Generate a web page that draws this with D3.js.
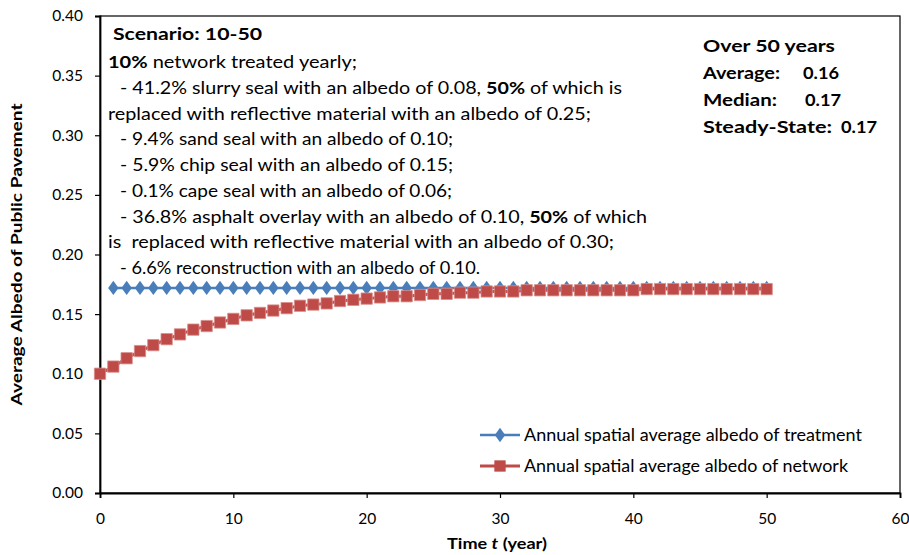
<!DOCTYPE html>
<html>
<head>
<meta charset="utf-8">
<script src="https://cdn.jsdelivr.net/npm/d3@7"></script>
<style>
  html, body { margin: 0; padding: 0; background: #fff; }
  svg { display: block; font-family: Lato, "Open Sans", sans-serif; }
</style>
</head>
<body>
<svg id="chart" width="909" height="555"></svg>
<script>
// Years for each series
const networkYears = d3.range(0, 51);
const treatmentYears = d3.range(1, 51);

// Annual spatial average albedo of the treatment applied (constant)
const treatmentAlbedo = Array(50).fill(0.172);

// Annual spatial average albedo of the whole network
const networkAlbedo = [
  0.100, 0.106, 0.113, 0.119, 0.124, 0.129, 0.133, 0.137, 0.140, 0.143,
  0.146, 0.149, 0.151, 0.153, 0.155, 0.157, 0.158, 0.159, 0.161, 0.162,
  0.163, 0.164, 0.165, 0.165, 0.166, 0.167, 0.167, 0.168, 0.168, 0.169,
  0.169, 0.169, 0.170, 0.170, 0.170, 0.170, 0.170, 0.170, 0.170, 0.170,
  0.170, 0.171, 0.171, 0.171, 0.171, 0.171, 0.171, 0.171, 0.171, 0.171,
  0.171
];

const xTicks = [0, 10, 20, 30, 40, 50, 60];
const yTicks = [0, 0.05, 0.10, 0.15, 0.20, 0.25, 0.30, 0.35, 0.40];

const seriesNames = [
  "Annual spatial average albedo of treatment",
  "Annual spatial average albedo of network"
];

// Scenario description lines: [text, bold?] segments
const scenarioTitle = "Scenario: 10-50";
const scenarioLines = [
  [["10%", true], [" network treated yearly;", false]],
  [["- 41.2% slurry seal with an albedo of 0.08, ", false], ["50%", true], [" of which is", false]],
  [["replaced with reflective material with an albedo of 0.25;", false]],
  [["- 9.4% sand seal with an albedo of 0.10;", false]],
  [["- 5.9% chip seal with an albedo of 0.15;", false]],
  [["- 0.1% cape seal with an albedo of 0.06;", false]],
  [["- 36.8% asphalt overlay with an albedo of 0.10, ", false], ["50%", true], [" of which", false]],
  [["is  replaced with reflective material with an albedo of 0.30;", false]],
  [["- 6.6% reconstruction with an albedo of 0.10.", false]]
];
const summaryTitle = "Over 50 years";
const summaryLabels = ["Average:", "Median:", "Steady-State:"];
const summaryValues = ["0.16", "0.17", "0.17"];

const blue = "#4A7EBB";
const red = "#BE4B48";

const svg = d3.select("#chart");
const margin = { left: 100, right: 9, top: 16, bottom: 62 };
const W = 909, H = 555;

const x = d3.scaleLinear().domain([0, 60]).range([margin.left, W - margin.right]);
const y = d3.scaleLinear().domain([0, 0.4]).range([H - margin.bottom, margin.top]);

// Plot frame
svg.append("rect")
  .attr("x", x(0)).attr("y", y(0.4))
  .attr("width", x(60) - x(0)).attr("height", y(0) - y(0.4))
  .attr("fill", "none").attr("stroke", "#000").attr("stroke-width", 1.2);

// Axes
const yAxis = svg.append("g")
  .attr("transform", `translate(${x(0)},0)`)
  .call(d3.axisLeft(y).tickValues(yTicks).tickFormat(d3.format(".2f")).tickSize(5).tickPadding(12));
const xAxis = svg.append("g")
  .attr("transform", `translate(0,${y(0)})`)
  .call(d3.axisBottom(x).tickValues(xTicks).tickFormat(d3.format("d")).tickSize(5).tickPadding(15));
[xAxis, yAxis].forEach(g => {
  g.select(".domain").attr("stroke", "#000").attr("stroke-width", 1.8);
  g.selectAll(".tick line").attr("stroke", "#000").attr("stroke-width", 1.2);
  g.selectAll(".tick text").attr("fill", "#000").style("font-family", "Lato, sans-serif").style("font-size", "15.5px");
});

// Axis titles
svg.append("text")
  .attr("x", 497).attr("y", 549)
  .attr("text-anchor", "middle")
  .style("font-size", "16px").style("font-weight", "bold")
  .attr("textLength", 100).attr("lengthAdjust", "spacingAndGlyphs")
  .call(t => {
    t.append("tspan").text("Time ");
    t.append("tspan").style("font-style", "italic").text("t");
    t.append("tspan").text(" (year)");
  });
svg.append("text")
  .attr("transform", `translate(22,${(y(0) + y(0.4)) / 2}) rotate(-90)`)
  .attr("text-anchor", "middle")
  .style("font-size", "16px").style("font-weight", "bold")
  .attr("textLength", 302).attr("lengthAdjust", "spacingAndGlyphs")
  .text("Average Albedo of Public Pavement");

// Marker shapes
const diamond = d3.symbol().type(d3.symbolDiamond).size(60);
const square = d3.symbol().type(d3.symbolSquare).size(128);

const line = d3.line().x(d => x(d[0])).y(d => y(d[1]));

// Treatment series
const tData = treatmentYears.map((t, i) => [t, treatmentAlbedo[i]]);
svg.append("path").datum(tData)
  .attr("d", line).attr("fill", "none").attr("stroke", blue).attr("stroke-width", 2.5);
svg.append("g").selectAll("path").data(tData).join("path")
  .attr("transform", d => `translate(${x(d[0])},${y(d[1])}) scale(1.25,1)`)
  .attr("d", diamond).attr("fill", blue);

// Network series
const nData = networkYears.map((t, i) => [t, networkAlbedo[i]]);
svg.append("path").datum(nData)
  .attr("d", line).attr("fill", "none").attr("stroke", red).attr("stroke-width", 3);
svg.append("g").selectAll("path").data(nData).join("path")
  .attr("transform", d => `translate(${x(d[0])},${y(d[1])})`)
  .attr("d", square).attr("fill", red).attr("stroke", "#D98E8C").attr("stroke-width", 0.8);

// Legend
const legend = svg.append("g");
const legendEnds = [862, 848];
[[blue, diamond, 435, 1.25], [red, square, 466, 1]].forEach(([c, sym, ly, sx], i) => {
  legend.append("line").attr("x1", 480).attr("x2", 520).attr("y1", ly).attr("y2", ly)
    .attr("stroke", c).attr("stroke-width", i ? 3 : 2.5);
  legend.append("path").attr("d", sym).attr("fill", c)
    .attr("transform", `translate(500,${ly}) scale(${sx},1)`);
  legend.append("text").attr("x", 524).attr("y", ly + 6)
    .style("font-size", "16.5px").attr("fill", "#000")
    .attr("textLength", legendEnds[i] - 524).attr("lengthAdjust", "spacingAndGlyphs")
    .text(seriesNames[i]);
});

// Scenario annotation
svg.append("text").attr("x", 113).attr("y", 40)
  .style("font-size", "17.5px").style("font-weight", "bold")
  .attr("textLength", 149).attr("lengthAdjust", "spacingAndGlyphs")
  .text(scenarioTitle);

const lineEnds = [357, 622, 591, 453, 453, 452, 647, 614, 480];
scenarioLines.forEach((segs, i) => {
  const startX = segs[0][0].startsWith("-") ? 120 : 108;
  const t = svg.append("text")
    .attr("x", startX).attr("y", 68 + i * 25.75)
    .style("font-size", "17px").style("white-space", "pre")
    .attr("textLength", lineEnds[i] - startX).attr("lengthAdjust", "spacingAndGlyphs");
  segs.forEach(([s, b]) => t.append("tspan").style("font-weight", b ? "bold" : "normal").text(s));
});

// Summary statistics block
svg.append("text").attr("x", 703).attr("y", 52)
  .style("font-size", "17.5px").style("font-weight", "bold")
  .attr("textLength", 132).attr("lengthAdjust", "spacingAndGlyphs")
  .text(summaryTitle);
const labelEnds = [780, 777, 832];
const valueStarts = [803, 805, 841];
summaryLabels.forEach((lab, i) => {
  const ly = 79 + i * 27;
  svg.append("text").attr("x", 703).attr("y", ly)
    .style("font-size", "17.5px").style("font-weight", "bold")
    .attr("textLength", labelEnds[i] - 703).attr("lengthAdjust", "spacingAndGlyphs")
    .text(lab);
  svg.append("text").attr("x", valueStarts[i]).attr("y", ly)
    .style("font-size", "17.5px").style("font-weight", "bold")
    .attr("textLength", 36).attr("lengthAdjust", "spacingAndGlyphs")
    .text(summaryValues[i]);
});
</script>
</body>
</html>
